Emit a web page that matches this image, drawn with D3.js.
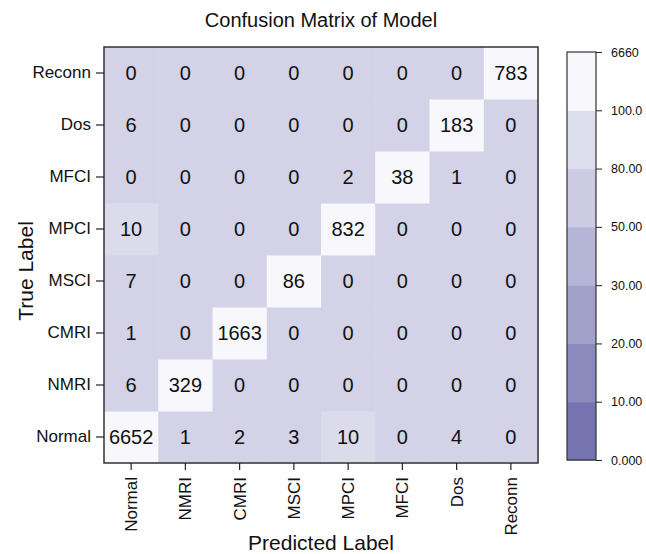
<!DOCTYPE html>
<html>
<head>
<meta charset="utf-8">
<script src="https://cdn.jsdelivr.net/npm/d3@7"></script>
<style>
  html, body { margin: 0; padding: 0; background: #fff; }
  svg { display: block; font-family: "Liberation Sans", Arial, sans-serif; }
</style>
</head>
<body>
<svg id="chart" width="646" height="554"></svg>
<script>
// ---- data ----
const labels = ["Normal", "NMRI", "CMRI", "MSCI", "MPCI", "MFCI", "Dos", "Reconn"];
// rows = true label, columns = predicted label (same order as labels)
const rowNormal = [6652, 1, 2, 3, 10, 0, 4, 0];
const rowNMRI   = [6, 329, 0, 0, 0, 0, 0, 0];
const rowCMRI   = [1, 0, 1663, 0, 0, 0, 0, 0];
const rowMSCI   = [7, 0, 0, 86, 0, 0, 0, 0];
const rowMPCI   = [10, 0, 0, 0, 832, 0, 0, 0];
const rowMFCI   = [0, 0, 0, 0, 2, 38, 1, 0];
const rowDos    = [6, 0, 0, 0, 0, 0, 183, 0];
const rowReconn = [0, 0, 0, 0, 0, 0, 0, 783];
const matrix = [rowNormal, rowNMRI, rowCMRI, rowMSCI, rowMPCI, rowMFCI, rowDos, rowReconn];

const colorbarTicks = ["0.000", "10.00", "20.00", "30.00", "50.00", "80.00", "100.0", "6660"];
const colorbarColors = ["#7574b0", "#8b8abd", "#a1a0c9", "#b5b5d8", "#cccbe3", "#dddfee", "#f7f7fc"];

// ---- layout ----
const svg = d3.select("#chart");
const mLeft = 104, mRight = 538, mTop = 47, mBottom = 463;

const x = d3.scaleBand().domain(labels).range([mLeft, mRight]);
const y = d3.scaleBand().domain(labels.slice().reverse()).range([mTop, mBottom]);

const cellColor = d3.scaleThreshold()
  .domain([10, 20])
  .range(["#d3d2e7", "#dcdbec", "#f8f8fc"]);

const cells = [];
matrix.forEach((row, i) => row.forEach((v, j) => cells.push({ t: labels[i], p: labels[j], v })));

// cells
svg.append("g").selectAll("rect").data(cells).join("rect")
  .attr("x", d => x(d.p))
  .attr("y", d => y(d.t))
  .attr("width", x.bandwidth() + 0.5)
  .attr("height", y.bandwidth() + 0.5)
  .attr("fill", d => cellColor(d.v));

svg.append("g").selectAll("text").data(cells).join("text")
  .attr("x", d => x(d.p) + x.bandwidth() / 2)
  .attr("y", d => y(d.t) + y.bandwidth() / 2)
  .attr("dy", "0.36em")
  .attr("text-anchor", "middle")
  .attr("font-size", 20)
  .attr("fill", "#111")
  .text(d => d.v);

// border
svg.append("rect")
  .attr("x", mLeft).attr("y", mTop)
  .attr("width", mRight - mLeft).attr("height", mBottom - mTop)
  .attr("fill", "none").attr("stroke", "#333").attr("stroke-width", 1.5);

// axes
const yAxis = svg.append("g").attr("transform", `translate(${mLeft},0)`)
  .call(d3.axisLeft(y).tickSize(8).tickPadding(5));
yAxis.select(".domain").remove();
yAxis.selectAll("line").attr("stroke", "#222").attr("stroke-width", 1.2);
yAxis.selectAll("text").attr("font-size", 17).attr("fill", "#111")
  .attr("font-family", "Liberation Sans, Arial, sans-serif");

const xAxis = svg.append("g").attr("transform", `translate(0,${mBottom})`)
  .call(d3.axisBottom(x).tickSize(7).tickPadding(6));
xAxis.select(".domain").remove();
xAxis.selectAll("line").attr("stroke", "#222").attr("stroke-width", 1.2);
xAxis.selectAll("text")
  .attr("font-size", 17).attr("fill", "#111")
  .attr("font-family", "Liberation Sans, Arial, sans-serif")
  .attr("text-anchor", "end")
  .attr("transform", "rotate(-90)")
  .attr("x", -14).attr("y", 0).attr("dy", "0.35em");

// titles
svg.append("text").attr("x", (mLeft + mRight) / 2).attr("y", 27)
  .attr("text-anchor", "middle").attr("font-size", 20).attr("fill", "#111")
  .text("Confusion Matrix of Model");
svg.append("text").attr("x", (mLeft + mRight) / 2).attr("y", 550)
  .attr("text-anchor", "middle").attr("font-size", 21).attr("fill", "#111")
  .text("Predicted Label");
svg.append("text").attr("transform", "translate(33,271) rotate(-90)")
  .attr("text-anchor", "middle").attr("font-size", 21).attr("fill", "#111")
  .text("True Label");

// colorbar
const cbX = 567, cbW = 29, cbTop = 52, cbBottom = 460;
const cb = d3.scaleLinear().domain([0, colorbarColors.length]).range([cbBottom, cbTop]);
const bands = colorbarColors.map((c, i) => ({ c, i }));
svg.append("g").selectAll("rect").data(bands).join("rect")
  .attr("x", cbX).attr("width", cbW)
  .attr("y", d => cb(d.i + 1))
  .attr("height", d => cb(d.i) - cb(d.i + 1) + 0.5)
  .attr("fill", d => d.c);
svg.append("rect").attr("x", cbX).attr("y", cbTop).attr("width", cbW).attr("height", cbBottom - cbTop)
  .attr("fill", "none").attr("stroke", "#333").attr("stroke-width", 1.2);

const cbAxisScale = d3.scalePoint().domain(colorbarTicks).range([cbBottom, cbTop]);
const cbAxis = svg.append("g").attr("transform", `translate(${cbX + cbW},0)`)
  .call(d3.axisRight(cbAxisScale).tickSize(6).tickPadding(9));
cbAxis.select(".domain").remove();
cbAxis.selectAll("line").attr("stroke", "#222");
cbAxis.selectAll("text").attr("font-size", 12.5).attr("fill", "#111")
  .attr("font-family", "Liberation Sans, Arial, sans-serif");
</script>
</body>
</html>
